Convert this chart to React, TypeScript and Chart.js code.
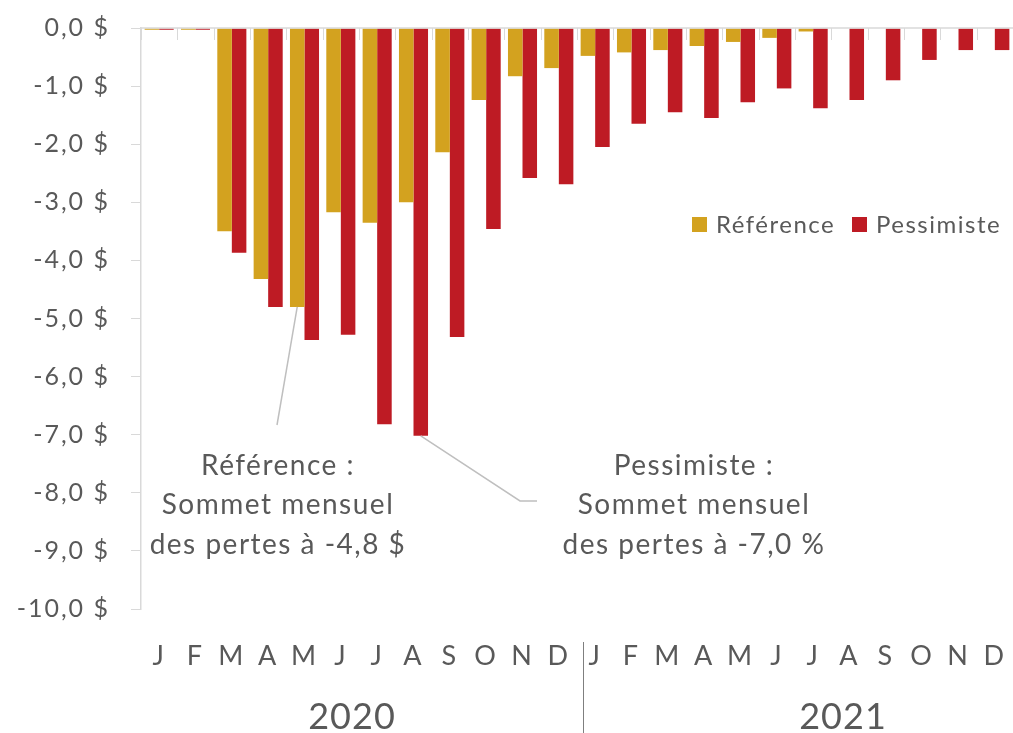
import React, { useEffect, useRef } from "react";
import { Chart, registerables } from "chart.js";

Chart.register(...registerables);

const MONTHS = ["J", "F", "M", "A", "M", "J", "J", "A", "S", "O", "N", "D"];
const LABELS = [...MONTHS, ...MONTHS];
const YEARS = ["2020", "2021"];
const REFERENCE = [
  -0.03, -0.03, -3.5, -4.32, -4.8, -3.17, -3.35, -3.0, -2.14, -1.24, -0.83, -0.69,
  -0.48, -0.42, -0.38, -0.31, -0.24, -0.17, -0.06, 0, 0, 0, 0, 0,
];
const PESSIMISTE = [
  -0.03, -0.03, -3.87, -4.8, -5.37, -5.28, -6.82, -7.02, -5.32, -3.46, -2.58, -2.69,
  -2.05, -1.65, -1.45, -1.55, -1.28, -1.04, -1.38, -1.24, -0.9, -0.55, -0.38, -0.38,
];
const SERIES_NAMES = ["Référence", "Pessimiste"];
const NOTE_REF = ["Référence :", "Sommet mensuel", "des pertes à -4,8 $"];
const NOTE_PESS = ["Pessimiste :", "Sommet mensuel", "des pertes à -7,0 %"];

const GOLD = "#D3A21F";
const RED = "#BE1B24";
const TEXT = "#595959";
const AXIS = "#D9D9D9";
const FONT = "Lato, 'Open Sans', sans-serif";

const spacing = {
  id: "spacing",
  beforeDraw(chart: any) {
    chart.ctx.letterSpacing = "2px";
  },
  afterDraw(chart: any) {
    chart.ctx.letterSpacing = "0px";
  },
};

const decor = {
  id: "decor",
  afterDatasetsDraw(chart: any) {
    const { ctx, chartArea } = chart;
    const x = chart.scales.x;
    const y = chart.scales.y;
    const y0 = y.getPixelForValue(0);
    ctx.save();
    // zero axis line
    ctx.strokeStyle = AXIS;
    ctx.lineWidth = 1.5;
    ctx.beginPath();
    ctx.moveTo(chartArea.left, y0);
    ctx.lineTo(chartArea.right, y0);
    ctx.stroke();
    // tick marks downward at category boundaries
    ctx.lineWidth = 1;
    for (let i = 0; i <= LABELS.length; i++) {
      const px = Math.round(x.getPixelForValue(i - 0.5)) + 0.5;
      ctx.beginPath();
      ctx.moveTo(px, y0);
      ctx.lineTo(px, y0 + 12);
      ctx.stroke();
    }
    // year separator
    ctx.strokeStyle = "#7F7F7F";
    ctx.lineWidth = 1;
    const sepX = Math.round(x.getPixelForValue(11.5)) + 6.5;
    ctx.beginPath();
    ctx.moveTo(sepX, 642);
    ctx.lineTo(sepX, 733);
    ctx.stroke();
    // year labels
    ctx.fillStyle = TEXT;
    ctx.letterSpacing = "1px";
    ctx.font = `36px ${FONT}`;
    ctx.textAlign = "center";
    ctx.textBaseline = "middle";
    ctx.fillText(YEARS[0], 352, 717);
    ctx.fillText(YEARS[1], 843, 717);
    // legend
    ctx.letterSpacing = "1.5px";
    ctx.font = `24px ${FONT}`;
    ctx.textAlign = "left";
    ctx.fillStyle = GOLD;
    ctx.fillRect(692, 217, 15, 15);
    ctx.fillStyle = TEXT;
    ctx.fillText(SERIES_NAMES[0], 716, 225);
    ctx.fillStyle = RED;
    ctx.fillRect(852, 217, 15, 15);
    ctx.fillStyle = TEXT;
    ctx.fillText(SERIES_NAMES[1], 876, 225);
    // callout lines
    const refBar = chart.getDatasetMeta(0).data[4];
    const pesBar = chart.getDatasetMeta(1).data[7];
    ctx.strokeStyle = "#BFBFBF";
    ctx.lineWidth = 1.5;
    ctx.beginPath();
    ctx.moveTo(refBar.x, refBar.y);
    ctx.lineTo(277, 425);
    ctx.stroke();
    ctx.beginPath();
    ctx.moveTo(pesBar.x, pesBar.y);
    ctx.lineTo(520, 501);
    ctx.lineTo(537, 501);
    ctx.stroke();
    // annotations
    ctx.fillStyle = TEXT;
    ctx.letterSpacing = "1.5px";
    ctx.font = `28px ${FONT}`;
    ctx.textAlign = "center";
    const ys = [466, 505, 545];
    NOTE_REF.forEach((t, i) => ctx.fillText(t, 278, ys[i]));
    NOTE_PESS.forEach((t, i) => ctx.fillText(t, 694, ys[i]));
    ctx.restore();
  },
};

export default function App() {
  const ref = useRef<HTMLCanvasElement | null>(null);
  useEffect(() => {
    if (!ref.current) return;
    const chart = new Chart(ref.current, {
      type: "bar",
      data: {
        labels: LABELS,
        datasets: [
          {
            label: SERIES_NAMES[0],
            data: REFERENCE,
            backgroundColor: GOLD,
            categoryPercentage: 0.8,
            barPercentage: 1,
          },
          {
            label: SERIES_NAMES[1],
            data: PESSIMISTE,
            backgroundColor: RED,
            categoryPercentage: 0.8,
            barPercentage: 1,
          },
        ],
      },
      options: {
        animation: false,
        responsive: false,
        maintainAspectRatio: false,
        layout: { padding: { top: 28, right: 0, left: 0, bottom: 0 } },
        plugins: { legend: { display: false }, tooltip: { enabled: false } },
        scales: {
          x: {
            grid: { display: false, drawTicks: false },
            border: { display: false },
            ticks: {
              color: TEXT,
              font: { family: FONT, size: 27 },
              padding: 31,
              maxRotation: 0,
              autoSkip: false,
            },
            afterFit: (s: any) => {
              s.height = 124;
              s.paddingLeft = 0;
              s.paddingRight = 0;
            },
          },
          y: {
            min: -10,
            max: 0,
            grid: {
              drawOnChartArea: false,
              drawTicks: true,
              tickLength: 10,
              color: AXIS,
            },
            border: { display: true, color: AXIS, width: 1.5 },
            ticks: {
              stepSize: 1,
              color: TEXT,
              font: { family: FONT, size: 25 },
              padding: 21,
              callback: (v: any) => Number(v).toFixed(1).replace(".", ",") + " $",
            },
            afterFit: (s: any) => {
              s.width = 141;
              s.paddingTop = 0;
              s.paddingBottom = 0;
            },
          },
        },
      },
      plugins: [spacing, decor],
    });
    return () => chart.destroy();
  }, []);
  return (
    <div style={{ position: "fixed", left: 0, top: 0, width: 1013, height: 733, background: "#fff" }}>
      <canvas ref={ref} width={1013} height={733} style={{ width: 1013, height: 733 }} />
    </div>
  );
}
